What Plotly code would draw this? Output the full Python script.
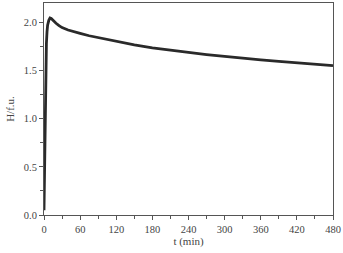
import plotly.graph_objects as go

t_min = [0, 1, 2, 3, 4, 5, 6, 8, 10, 12, 15, 20, 25, 30, 40, 50, 60, 75, 90, 105, 120, 150,
         180, 210, 240, 270, 300, 330, 360, 390, 420, 450, 480]
h_fu = [0.05, 0.6, 1.2, 1.55, 1.78, 1.9, 1.97, 2.02, 2.045, 2.04, 2.02, 1.99, 1.965, 1.945, 1.92,
        1.9, 1.885, 1.86, 1.84, 1.82, 1.80, 1.765, 1.735, 1.71, 1.685, 1.665, 1.645, 1.625,
        1.61, 1.595, 1.58, 1.565, 1.55]
x_ticks = [0, 60, 120, 180, 240, 300, 360, 420, 480]
y_ticks = [0.0, 0.5, 1.0, 1.5, 2.0]

fig = go.Figure()
fig.add_trace(go.Scatter(x=t_min, y=h_fu, mode="lines",
                         line=dict(color="#2a2a2a", width=2.8),
                         showlegend=False))

fam = "Liberation Serif, Times New Roman, serif"
font = dict(family=fam, size=10.5, color="#444")
fig.update_layout(
    width=343, height=253,
    margin=dict(l=44, r=8, t=2, b=38),
    paper_bgcolor="white", plot_bgcolor="white",
    font=font,
)
fig.update_xaxes(
    range=[0, 480], tickvals=x_ticks, ticktext=[str(v) for v in x_ticks],
    showgrid=False, zeroline=False, showline=True, linecolor="#555", linewidth=1, mirror=True,
    ticks="outside", ticklen=4, tickcolor="#555",
    minor=dict(dtick=30, tick0=0, ticks="outside", ticklen=3, tickcolor="#555"),
    title=dict(text="t (min)", font=dict(size=11, family=fam, color="#444"), standoff=3),
)
fig.update_yaxes(
    range=[0, 2.2], tickvals=y_ticks, ticktext=[f"{v:.1f}" for v in y_ticks],
    showgrid=False, zeroline=False, showline=True, linecolor="#555", linewidth=1, mirror=True,
    ticks="outside", ticklen=4, tickcolor="#555",
    minor=dict(dtick=0.25, tick0=0, ticks="outside", ticklen=3, tickcolor="#555"),
    title=dict(text="H/f.u.", font=dict(size=11, family=fam, color="#444"), standoff=6),
)
fig.write_html("out.html")
